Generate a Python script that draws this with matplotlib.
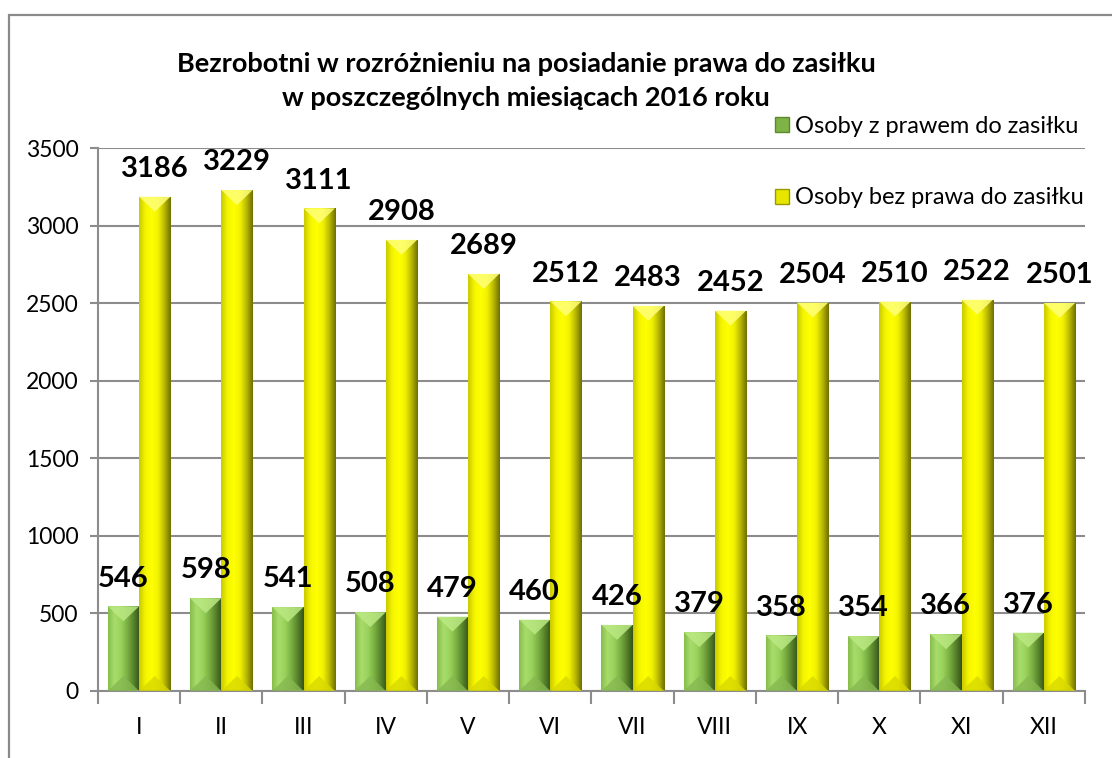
import matplotlib

matplotlib.use("Agg")
import matplotlib.pyplot as plt
import numpy as np
from matplotlib.colors import LinearSegmentedColormap
from matplotlib.patches import Polygon, Rectangle

months = ["I", "II", "III", "IV", "V", "VI", "VII", "VIII", "IX", "X", "XI", "XII"]
with_benefit = [546, 598, 541, 508, 479, 460, 426, 379, 358, 354, 366, 376]
without_benefit = [3186, 3229, 3111, 2908, 2689, 2512, 2483, 2452, 2504, 2510, 2522, 2501]
labels = ["Osoby z prawem do zasiłku", "Osoby bez prawa do zasiłku"]
title = "Bezrobotni w rozróżnieniu na posiadanie prawa do zasiłku\nw poszczególnych miesiącach 2016 roku"

FONT = "Lato"
GRID = "#8c8c8c"
GREEN_MAP = LinearSegmentedColormap.from_list(
    "g", ["#86bd4a", "#a8dc6c", "#9ad35c", "#7cb143", "#58852b", "#34521a"])
YELLOW_MAP = LinearSegmentedColormap.from_list(
    "y", ["#c9c900", "#f5f500", "#ffff00", "#f2f200", "#b8b800", "#6e6e00"])
GREEN_TOP, GREEN_BOT = "#bbe883", "#86b850"
YELLOW_TOP, YELLOW_BOT = "#ffff7a", "#d8d800"

fig = plt.figure(figsize=(11.12, 7.58), dpi=100)
ax = fig.add_axes([0.0881, 0.0884, 0.8876, 0.7163])

# outer chart frame (only left and top edges are visible in the picture)
fig.add_artist(Rectangle((0.0085, -0.2), 1.2, 1.18, transform=fig.transFigure,
                         fill=False, edgecolor="#8a8a8a", linewidth=1.6))

x = np.arange(len(months))
w = 0.38
ax.set_xlim(-0.5, len(months) - 0.5)
ax.set_ylim(0, 3500)


def bevel(patches, cmap, top_col, bot_col):
    # convert ~15 px of bevel depth into data units
    inv = ax.transData.inverted()
    p0 = inv.transform(ax.transData.transform((0, 0)) + np.array([0, 15]))
    dy = p0[1]
    grad = np.linspace(0, 1, 128).reshape(1, -1)
    for p in patches:
        x0, bw, h = p.get_x(), p.get_width(), p.get_height()
        im = ax.imshow(grad, cmap=cmap, extent=(x0, x0 + bw, 0, h), aspect="auto",
                       interpolation="bicubic", zorder=2)
        im.set_clip_path(p)
        xc = x0 + bw / 2
        d = min(dy, h / 2)
        ax.add_patch(Polygon([(x0, h), (x0 + bw, h), (xc, h - d)], closed=True,
                             facecolor=top_col, edgecolor="none", alpha=0.85, zorder=3))
        ax.add_patch(Polygon([(x0, 0), (x0 + bw, 0), (xc, d)], closed=True,
                             facecolor=bot_col, edgecolor="none", alpha=0.8, zorder=3))


g = ax.bar(x - w / 2, with_benefit, w, color="#8cc84b", label=labels[0], zorder=2, linewidth=0)
yb = ax.bar(x + w / 2, without_benefit, w, color="#ffff00", label=labels[1], zorder=2, linewidth=0)
bevel(g, GREEN_MAP, GREEN_TOP, GREEN_BOT)
bevel(yb, YELLOW_MAP, YELLOW_TOP, YELLOW_BOT)
ax.set_xlim(-0.5, len(months) - 0.5)
ax.set_ylim(0, 3500)

for xs, vals in ((x - w / 2, with_benefit), (x + w / 2, without_benefit)):
    for xi, v in zip(xs, vals):
        ax.annotate(str(v), (xi, v), xytext=(0, 20), textcoords="offset points", ha="center",
                    va="center", fontsize=21, fontweight="bold", family=FONT, zorder=5)

# axes styling
ax.set_yticks(np.arange(0, 3501, 500))
ax.grid(axis="y", color=GRID, linewidth=1.5, zorder=0)
ax.set_axisbelow(True)
ax.set_xticks(np.arange(-0.5, len(months)), minor=False)
ax.set_xticklabels([])
ax.set_xticks(x, minor=True)
ax.set_xticklabels(months, minor=True, fontsize=16.5, family=FONT)
ax.tick_params(axis="x", which="major", length=9, width=1.5, color=GRID)
ax.tick_params(axis="x", which="minor", length=0, pad=19)
ax.tick_params(axis="y", length=6, width=1.5, color=GRID, labelsize=16.5, pad=8)
for lab in ax.get_yticklabels():
    lab.set_family(FONT)
for s in ("top", "right"):
    ax.spines[s].set_visible(False)
for s in ("left", "bottom"):
    ax.spines[s].set_color(GRID)
    ax.spines[s].set_linewidth(1.5)

fig.text(0.473, 0.893, title, ha="center", va="center", fontsize=19.5, fontweight="bold",
         family=FONT, linespacing=1.5)

leg = fig.legend(handles=[Rectangle((0, 0), 1, 1, facecolor="#7fb347", edgecolor="#5a8a2a"),
                          Rectangle((0, 0), 1, 1, facecolor="#e6e600", edgecolor="#9a9a00")],
                 labels=labels, loc="upper right", bbox_to_anchor=(0.983, 0.86),
                 frameon=False, prop={"family": FONT, "size": 17}, handlelength=0.6,
                 handleheight=0.6, handletextpad=0.25, labelspacing=2.15, borderaxespad=0)

fig.savefig("out.png", dpi=100)
